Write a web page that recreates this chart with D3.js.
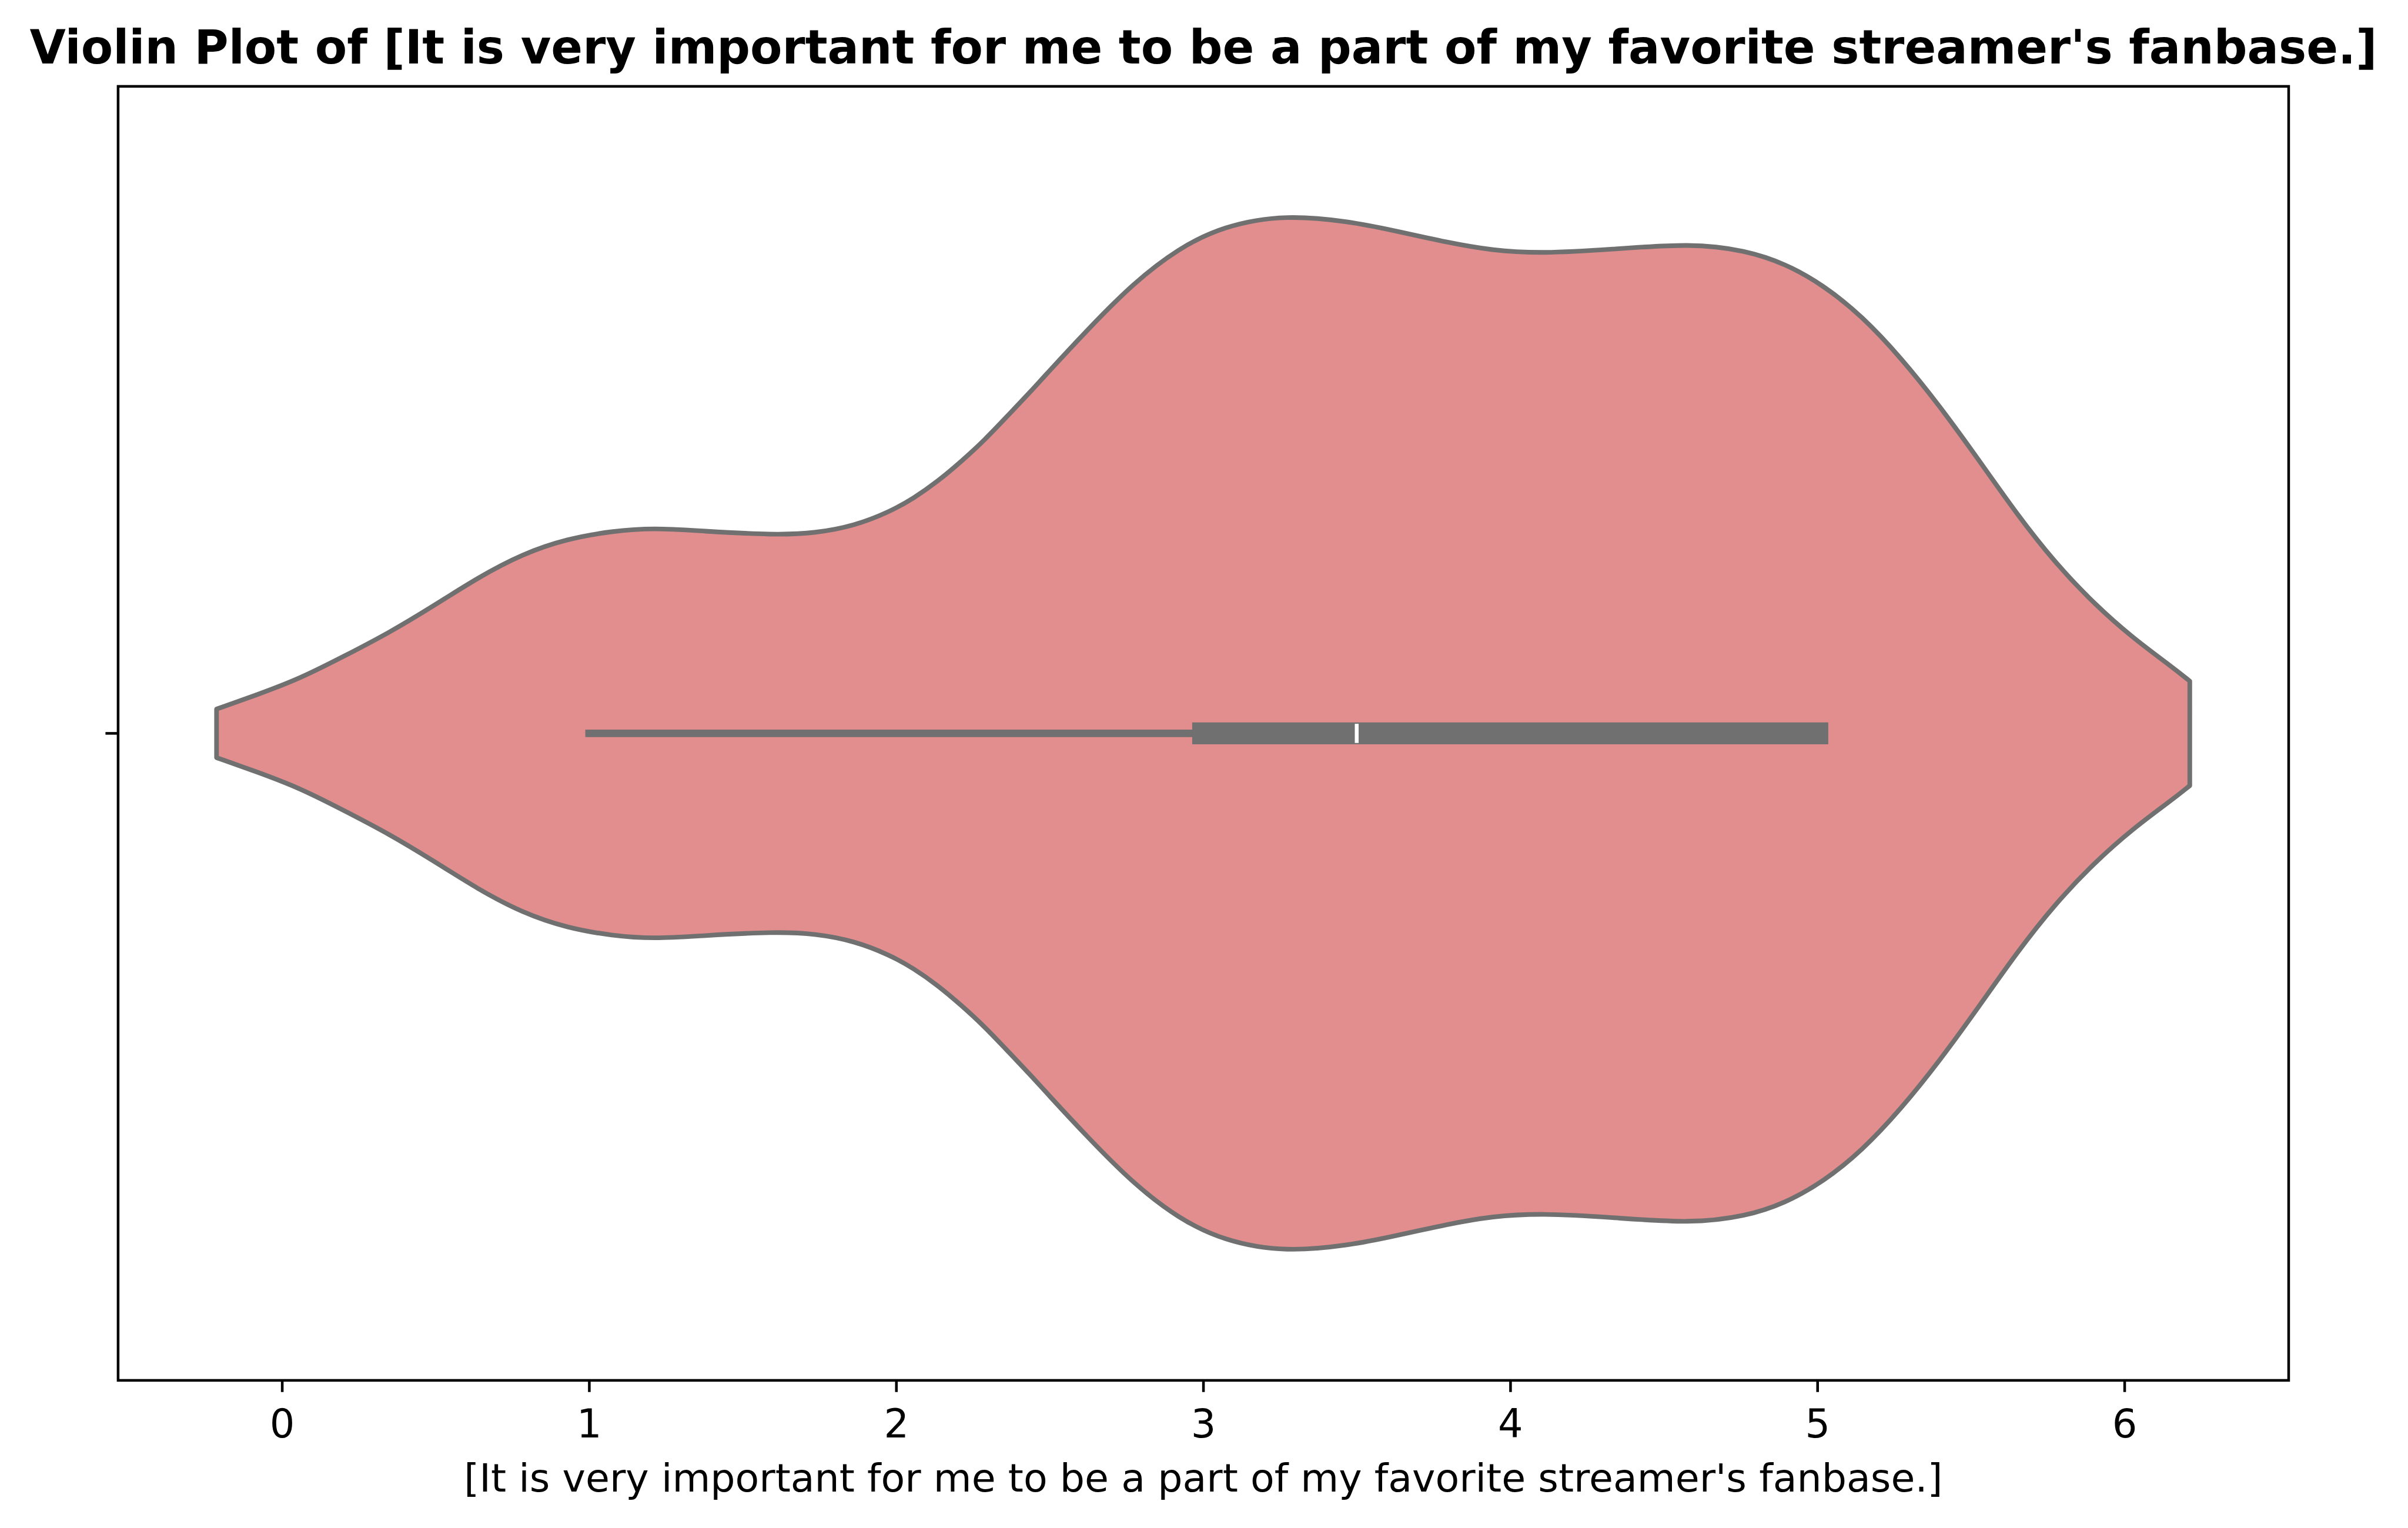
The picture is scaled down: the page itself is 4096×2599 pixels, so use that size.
<!DOCTYPE html>
<html>
<head>
<meta charset="utf-8">
<script src="https://cdn.jsdelivr.net/npm/d3@7"></script>
<style>
  html, body { margin: 0; padding: 0; background: #ffffff; }
  svg { display: block; }
</style>
</head>
<body>
<svg id="chart" width="4096" height="2599"></svg>
<script>
// ---------------- data ----------------
const titleText = "Violin Plot of [It is very important for me to be a part of my favorite streamer's fanbase.]";
const xLabelText = "[It is very important for me to be a part of my favorite streamer's fanbase.]";
const categories = ["resp"];
const xTicks = [0, 1, 2, 3, 4, 5, 6];
// kernel density estimate: response value and relative density
const kdeValues  = [-0.213, -0.088, 0.056, 0.202, 0.348, 0.493, 0.638, 0.784, 0.929, 1.075, 1.213, 1.365, 1.605, 1.739, 1.864, 1.979, 2.057, 2.134, 2.212, 2.289, 2.367, 2.444, 2.483, 2.628, 2.773, 2.919, 3.065, 3.268, 3.501, 3.646, 3.791, 3.937, 4.105, 4.327, 4.591, 4.767, 4.894, 5.020, 5.146, 5.272, 5.398, 5.525, 5.649, 5.775, 5.902, 6.028, 6.154, 6.213];
const kdeDensity = [0.047, 0.073, 0.105, 0.149, 0.194, 0.246, 0.301, 0.347, 0.376, 0.391, 0.397, 0.391, 0.383, 0.387, 0.401, 0.428, 0.454, 0.486, 0.525, 0.567, 0.616, 0.664, 0.690, 0.783, 0.870, 0.937, 0.980, 1.003, 0.987, 0.968, 0.949, 0.933, 0.927, 0.935, 0.947, 0.933, 0.908, 0.866, 0.806, 0.726, 0.633, 0.529, 0.424, 0.329, 0.250, 0.184, 0.129, 0.101];
// box statistics
const whiskerLow = 1, q1 = 3, median = 3.5, q3 = 5, whiskerHigh = 5;

// ---------------- layout ----------------
const W = 4096, H = 2599;
const plot = { left: 200.9, right: 3893, top: 146.9, bottom: 2347.9 };
const fillColor = "#e28e8e";
const lineColor = "#707070";
const font = "'DejaVu Sans', 'Liberation Sans', sans-serif";

const svg = d3.select("#chart");
svg.append("rect").attr("width", W).attr("height", H).attr("fill", "#ffffff");

const x = d3.scaleLinear().domain([-0.5336, 6.535]).range([plot.left, plot.right]);
const y = d3.scaleBand().domain(categories).range([plot.top, plot.bottom]).padding(0);
const cy = y(categories[0]) + y.bandwidth() / 2;
const hw = d3.scaleLinear().domain([0, 1.0]).range([0, 0.4 * y.bandwidth()]);

const kde = kdeValues.map((v, i) => ({ v, d: kdeDensity[i] }));

// violin body
const area = d3.area()
  .x(p => x(p.v))
  .y0(p => cy + hw(p.d))
  .y1(p => cy - hw(p.d))
  .curve(d3.curveBasis);

svg.append("path")
  .datum(kde)
  .attr("d", area)
  .attr("fill", fillColor)
  .attr("stroke", lineColor)
  .attr("stroke-width", 7.9)
  .attr("stroke-linejoin", "round");

// whisker
svg.append("line")
  .attr("x1", x(whiskerLow)).attr("x2", x(whiskerHigh))
  .attr("y1", cy).attr("y2", cy)
  .attr("stroke", lineColor).attr("stroke-width", 12.7)
  .attr("stroke-linecap", "square");

// box (IQR)
svg.append("line")
  .attr("x1", x(q1)).attr("x2", x(q3))
  .attr("y1", cy).attr("y2", cy)
  .attr("stroke", lineColor).attr("stroke-width", 37.3)
  .attr("stroke-linecap", "square");

// median
svg.append("line")
  .attr("x1", x(median)).attr("x2", x(median))
  .attr("y1", cy - 16.3).attr("y2", cy + 16.3)
  .attr("stroke", "#ffffff").attr("stroke-width", 6.5);

// x axis
const xAxis = d3.axisBottom(x).tickValues(xTicks).tickFormat(d3.format("d")).tickSize(19.8).tickSizeOuter(0);
const gx = svg.append("g").attr("transform", `translate(0,${plot.bottom})`).call(xAxis);
gx.select(".domain").remove();
gx.selectAll(".tick line").attr("stroke", "#000").attr("stroke-width", 4.5);
gx.selectAll(".tick text")
  .attr("y", 97.6).attr("dy", 0)
  .attr("fill", "#000")
  .style("font-family", font).style("font-size", "67px");

// y axis (single tick without label)
const yAxis = d3.axisLeft(y).tickFormat(() => "").tickSize(21.5).tickSizeOuter(0);
const gy = svg.append("g").attr("transform", `translate(${plot.left},0)`).call(yAxis);
gy.select(".domain").remove();
gy.selectAll(".tick line").attr("stroke", "#000").attr("stroke-width", 4.5);

// frame
svg.append("rect")
  .attr("x", plot.left).attr("y", plot.top)
  .attr("width", plot.right - plot.left).attr("height", plot.bottom - plot.top)
  .attr("fill", "none").attr("stroke", "#000").attr("stroke-width", 4.5);

// title
svg.append("text")
  .attr("x", (plot.left + plot.right) / 2).attr("y", 108)
  .attr("text-anchor", "middle")
  .style("font-family", font).style("font-size", "79.3px").style("font-weight", "bold")
  .text(titleText);

// x label
svg.append("text")
  .attr("x", (plot.left + plot.right) / 2).attr("y", 2537)
  .attr("text-anchor", "middle")
  .style("font-family", font).style("font-size", "66.6px")
  .text(xLabelText);
</script>
</body>
</html>
